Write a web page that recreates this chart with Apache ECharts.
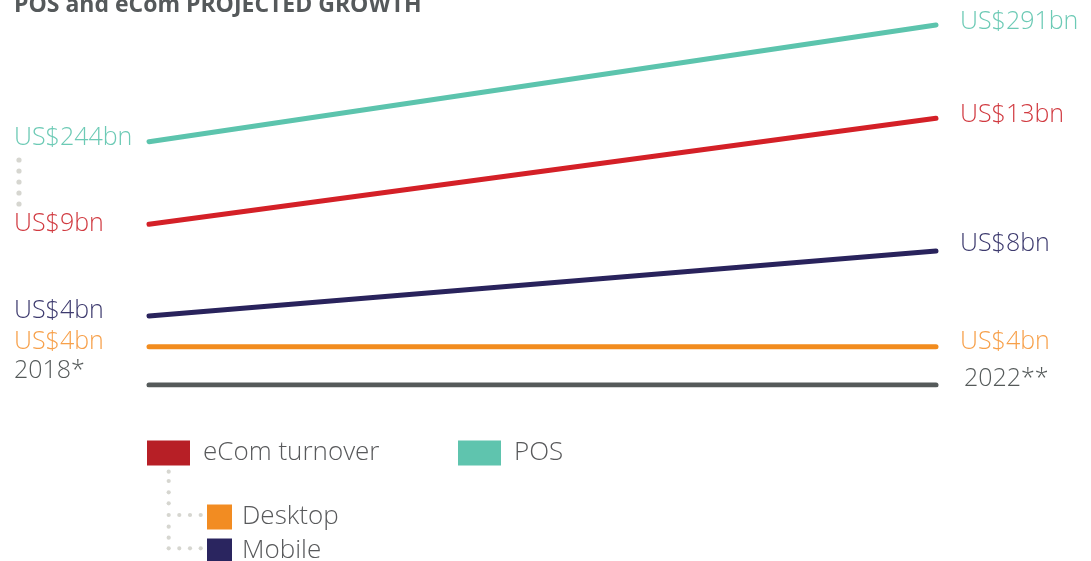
<!DOCTYPE html>
<html>
<head>
<meta charset="utf-8">
<script src="https://cdn.jsdelivr.net/npm/echarts@6/dist/echarts.min.js"></script>
<style>
html,body{margin:0;padding:0;background:#fff;}
#chart{width:1091px;height:561px;}
</style>
</head>
<body>
<div id="chart"></div>
<script>
// ---- data ----
const years = ['2018*', '2022**'];
const posValues = [244, 291];
const ecomValues = [9, 13];
const mobileValues = [4, 8];
const desktopValues = [4, 4];
const baselineValues = [0, 0];
const seriesNames = ['POS', 'eCom turnover', 'Mobile', 'Desktop'];
const titleText = 'POS and eCom PROJECTED GROWTH';

// ---- styles ----
const FONT = 'Open Sans';
const LBL_SIZE = 25;
const GRID_LEFT = 149, GRID_RIGHT = 155;
const LEFT_X = 14, RIGHT_X = 960;

function lbl(side, dy, color, extraX) {
  const dx = side === 0 ? (LEFT_X - GRID_LEFT) : (RIGHT_X - (1091 - GRID_RIGHT)) + (extraX || 0);
  return {
    show: true, position: 'inside', align: 'left', verticalAlign: 'middle',
    offset: [dx, dy], color: color, fontFamily: FONT, fontWeight: 300, fontSize: LBL_SIZE
  };
}
function mkData(values, dys, color, extraX) {
  return values.map((v, i) => ({ value: v, label: lbl(i, dys[i], color, i === 1 ? extraX : 0) }));
}
function lineSeries(name, values, yIdx, lineColor, iconColor, textColor, dys, fmt, extraX) {
  return {
    name: name, type: 'line', yAxisIndex: yIdx,
    data: mkData(values, dys, textColor, extraX),
    symbol: 'circle', symbolSize: 0, showSymbol: true,
    itemStyle: { color: iconColor },
    lineStyle: { color: lineColor, width: 5, cap: 'round' },
    label: { formatter: fmt },
    emphasis: { disabled: true },
    animation: false
  };
}
const money = p => 'US$' + p.value + 'bn';
const legendText = { fontFamily: FONT, fontWeight: 300, fontSize: 26, lineHeight: 25, color: '#58595b' };

const chart = echarts.init(document.getElementById('chart'));
chart.setOption({
  backgroundColor: '#ffffff',
  animation: false,
  title: {
    text: titleText, left: 14, top: -6, padding: 0,
    textStyle: { fontFamily: FONT, fontWeight: 'bold', fontSize: 23, color: '#55595b' }
  },
  grid: { left: GRID_LEFT, right: GRID_RIGHT, top: 20, bottom: 176 },
  xAxis: {
    type: 'category', data: years, boundaryGap: false,
    axisLine: { show: false }, axisTick: { show: false }, axisLabel: { show: false }, splitLine: { show: false }
  },
  yAxis: [
    { type: 'value', min: 146, max: 293, show: false },
    { type: 'value', min: 2.936, max: 16.709, show: false },
    { type: 'value', min: -0.246, max: 22.215, show: false },
    { type: 'value', min: 0, max: 38.12, show: false }
  ],
  legend: [
    { data: [seriesNames[1]], left: 147, top: 440, padding: 0, orient: 'horizontal', icon: 'rect',
      itemWidth: 43, itemHeight: 25, selectedMode: false,
      textStyle: Object.assign({ padding: [0, 0, 0, 8] }, legendText) },
    { data: [seriesNames[0]], left: 458, top: 440, padding: 0, orient: 'horizontal', icon: 'rect',
      itemWidth: 43, itemHeight: 25, selectedMode: false,
      textStyle: Object.assign({ padding: [0, 0, 0, 8] }, legendText) },
    { data: [seriesNames[3], seriesNames[2]], left: 207, top: 504, height: 120, padding: 0, orient: 'vertical', icon: 'rect',
      itemWidth: 25, itemHeight: 25, itemGap: 8, selectedMode: false,
      textStyle: Object.assign({ padding: [0, 0, 0, 5] }, legendText) }
  ],
  series: [
    lineSeries(seriesNames[0], posValues, 0, '#5cc4ad', '#5fc4ae', '#6ccab5', [-4, -3], money),
    lineSeries(seriesNames[1], ecomValues, 1, '#d42027', '#b71f26', '#d13a40', [0, -3], money),
    lineSeries(seriesNames[2], mobileValues, 2, '#29235c', '#2a255f', '#3d3a6e', [-5, -7], money),
    lineSeries(seriesNames[3], desktopValues, 3, '#f28c1e', '#f28c22', '#f7a04a', [-5, -5], money),
    lineSeries('baseline', baselineValues, 3, '#555a5a', '#555a5a', '#555a5a', [-14, -6.5], p => p.name, 4)
  ],
  graphic: (function () {
    const g = [];
    const dot = '#d6d6d0';
    [160, 171, 182, 193, 204].forEach(y => g.push({ type: 'circle', shape: { cx: 19, cy: y, r: 2.6 }, style: { fill: dot }, silent: true }));
    [471.7, 481, 492.3, 503.3, 515, 526.7, 537.7, 548.3].forEach(y => g.push({ type: 'circle', shape: { cx: 168.7, cy: y, r: 2.1 }, style: { fill: dot }, silent: true }));
    [179.3, 190, 200.7].forEach(x => {
      g.push({ type: 'circle', shape: { cx: x, cy: 515, r: 2.1 }, style: { fill: dot }, silent: true });
      g.push({ type: 'circle', shape: { cx: x, cy: 548.3, r: 2.1 }, style: { fill: dot }, silent: true });
    });
    return g;
  })()
});
</script>
</body>
</html>
